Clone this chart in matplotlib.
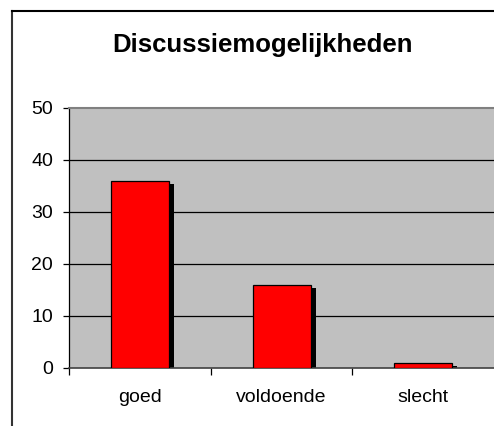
import matplotlib
matplotlib.use("Agg")
import matplotlib.pyplot as plt
from matplotlib.lines import Line2D

categories = ["goed", "voldoende", "slecht"]
values = [36, 16, 1]
yticks = [0, 10, 20, 30, 40, 50]
title = "Discussiemogelijkheden"

W, H = 494, 426
fig = plt.figure(figsize=(W / 100, H / 100), dpi=100)
plt.rcParams["font.family"] = ["Liberation Sans", "DejaVu Sans"]

# outer frame (left + top visible, rest cropped)
fig.add_artist(Line2D([12 / W, 12 / W], [0, 1 - 11 / H], color="#333333", lw=1.5))
fig.add_artist(Line2D([12 / W, 1], [1 - 11 / H, 1 - 11 / H], color="#000000", lw=1.5))

# plot area runs to the right edge (cropped like the reference)
x0, x1 = 69, 494
left, right = x0 / W, x1 / W
bottom, top = 1 - 368 / H, 1 - 108 / H
ax = fig.add_axes([left, bottom, right - left, top - bottom])
ax.set_facecolor("#c0c0c0")
ax.set_xlim(-0.5, len(categories) - 0.5)
ax.set_ylim(0, 50)

# gridlines
for t in yticks[1:-1]:
    ax.axhline(t, color="black", lw=0.9, zorder=1)

# data units per pixel
ppx = len(categories) / (x1 - x0)
ppy = 50 / (368 - 108)
width = 58 * ppx
xs = range(len(categories))

# shadows
ax.bar([x + 5 * ppx for x in xs], [max(v - 3 * ppy, 0) for v in values],
       width=width, color="black", zorder=2)
ax.bar(xs, values, width=width, color="#ff0000", edgecolor="black", lw=0.9, zorder=3)

ax.spines["top"].set_color("#808080")
ax.spines["top"].set_linewidth(1.5)
ax.spines["right"].set_visible(False)
ax.spines["left"].set_color("black")
ax.spines["bottom"].set_color("#404040")
ax.spines["left"].set_linewidth(0.9)
ax.spines["bottom"].set_linewidth(1.2)

ax.set_yticks(yticks)
ax.set_yticklabels([str(t) for t in yticks], fontsize=14)
ax.tick_params(axis="y", length=4.5, width=0.9, pad=7, direction="out")

ax.set_xticks([x - 0.5 for x in range(len(categories))])
ax.set_xticklabels([""] * len(categories))
ax.tick_params(axis="x", length=5, width=0.9, direction="out")
for x, c in zip(xs, categories):
    ax.text(x, -30 * ppy, c, ha="center", va="center", fontsize=14, clip_on=False)

fig.text(263 / W, 1 - 52 / H, title, ha="center", va="baseline",
         fontsize=18.5, fontweight="bold")

fig.savefig("out.png", dpi=100)
